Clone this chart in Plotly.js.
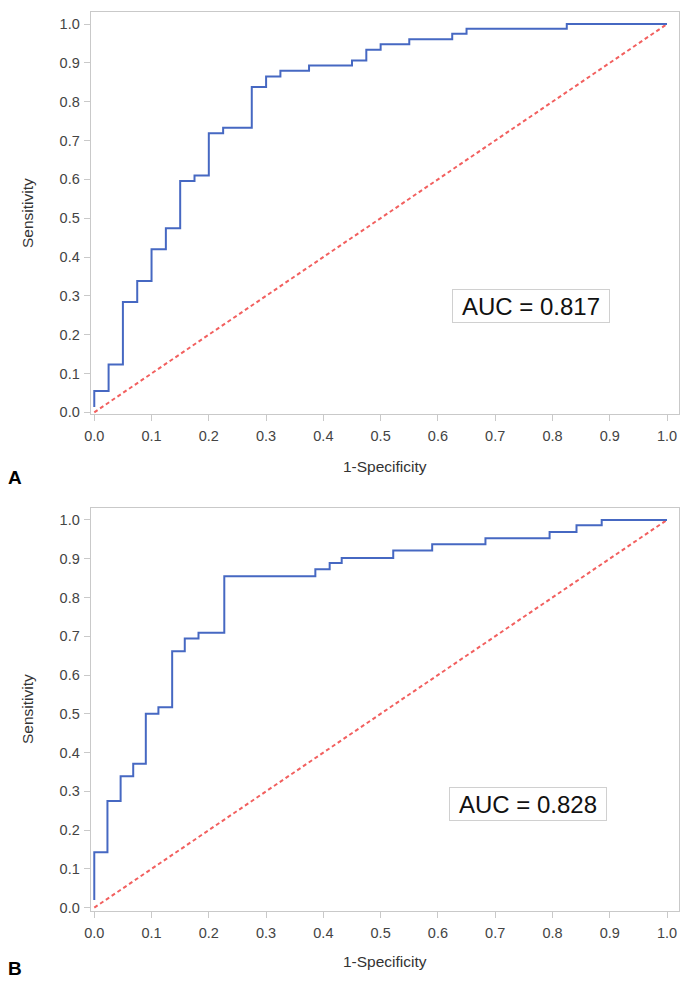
<!DOCTYPE html>
<html>
<head>
<meta charset="utf-8">
<script src="https://cdn.plot.ly/plotly-3.0.1.min.js"></script>
<style>html,body{margin:0;padding:0;background:#fff;}#chart{width:690px;height:986px;}</style>
</head>
<body>
<div id="chart"></div>
<script>
// Panel A ROC curve (1-Specificity, Sensitivity)
const fprA = [0, 0, 0.025, 0.05, 0.075, 0.10, 0.125, 0.15, 0.175, 0.20, 0.225, 0.275, 0.30, 0.325, 0.375, 0.45, 0.475, 0.50, 0.55, 0.625, 0.65, 0.825, 1.0];
const tprA = [0.014, 0.055, 0.123, 0.284, 0.338, 0.420, 0.474, 0.596, 0.610, 0.719, 0.733, 0.838, 0.865, 0.880, 0.893, 0.906, 0.934, 0.948, 0.961, 0.975, 0.988, 1.0, 1.0];
// Panel B ROC curve
const fprB = [0, 0, 0.023, 0.046, 0.068, 0.090, 0.112, 0.136, 0.158, 0.182, 0.227, 0.386, 0.411, 0.432, 0.522, 0.590, 0.683, 0.795, 0.842, 0.886, 1.0];
const tprB = [0.02, 0.143, 0.275, 0.339, 0.371, 0.500, 0.517, 0.661, 0.694, 0.709, 0.855, 0.873, 0.889, 0.902, 0.921, 0.937, 0.953, 0.969, 0.986, 1.0, 1.0];
// Reference diagonal
const refX = [0, 1];
const refY = [0, 1];
// Labels
const aucA = "AUC = 0.817";
const aucB = "AUC = 0.828";
const panelLabels = ["A", "B"];
const xTitle = "1-Specificity";
const yTitle = "Sensitivity";
const tickVals = [0, 0.1, 0.2, 0.3, 0.4, 0.5, 0.6, 0.7, 0.8, 0.9, 1.0];
const tickText = tickVals.map(v => v.toFixed(1));

const FONT = "Liberation Sans, Arial, Helvetica, sans-serif";
const BLUE = "#4668C2";
const RED = "#F2605F";
const FRAME = "#C9C9C9";

const traces = [
  {x: refX, y: refY, xaxis: "x", yaxis: "y", mode: "lines", line: {color: RED, width: 2, dash: "4px,3px"}, hoverinfo: "skip"},
  {x: fprA, y: tprA, xaxis: "x", yaxis: "y", mode: "lines", line: {color: BLUE, width: 2, shape: "hv"}},
  {x: refX, y: refY, xaxis: "x2", yaxis: "y2", mode: "lines", line: {color: RED, width: 2, dash: "4px,3px"}, hoverinfo: "skip"},
  {x: fprB, y: tprB, xaxis: "x2", yaxis: "y2", mode: "lines", line: {color: BLUE, width: 2, shape: "hv"}}
];

function xa(domain, anchor) {
  return {domain: domain, anchor: anchor, range: [-0.0063, 1.021], tickvals: tickVals, ticktext: tickText,
    showline: true, mirror: true, linecolor: FRAME, linewidth: 1, ticks: "outside", ticklen: 6, tickcolor: FRAME,
    ticklabelstandoff: 3,
    showgrid: false, zeroline: false, tickfont: {family: FONT, size: 14.5, color: "#444"}, fixedrange: true};
}
function ya(domain, anchor, r) {
  return {domain: domain, anchor: anchor, range: r, tickvals: tickVals, ticktext: tickText,
    showline: true, mirror: true, linecolor: FRAME, linewidth: 1, ticks: "outside", ticklen: 6, tickcolor: FRAME,
    ticklabelstandoff: 1,
    showgrid: false, zeroline: false, tickfont: {family: FONT, size: 14.5, color: "#444"}, fixedrange: true};
}

function lab(x, y, text, size, color, angle) {
  return {xref: "paper", yref: "paper", x: x / 690, y: 1 - y / 986, xanchor: "center", yanchor: "middle",
    text: text, textangle: angle || 0, showarrow: false, font: {family: FONT, size: size, color: color}};
}

const layout = {
  width: 690, height: 986,
  margin: {l: 0, r: 0, t: 0, b: 0},
  paper_bgcolor: "#fff", plot_bgcolor: "#fff",
  showlegend: false,
  font: {family: FONT, color: "#333"},
  xaxis: xa([0.1314, 0.9841], "y"),
  yaxis: ya([0.5801, 0.9878], "x", [-0.0044, 1.031]),
  xaxis2: xa([0.1314, 0.9841], "y2"),
  yaxis2: ya([0.0761, 0.4845], "x2", [-0.0085, 1.030]),
  annotations: [
    {xref: "x", yref: "y", x: 0.763, y: 0.273, xanchor: "center", yanchor: "middle", text: aucA, showarrow: false, font: {family: FONT, size: 24, color: "#111"},
      bordercolor: "#D0D0D0", borderwidth: 1, borderpad: 2, bgcolor: "#fff", width: 152, height: 28},
    {xref: "x2", yref: "y2", x: 0.757, y: 0.267, xanchor: "center", yanchor: "middle", text: aucB, showarrow: false, font: {family: FONT, size: 24, color: "#111"},
      bordercolor: "#D0D0D0", borderwidth: 1, borderpad: 2, bgcolor: "#fff", width: 152, height: 28},
    lab(27, 213, yTitle, 15.5, "#333", -90),
    lab(27, 709, yTitle, 15.5, "#333", -90),
    lab(385, 466.5, xTitle, 15.5, "#333"),
    lab(385, 961.5, xTitle, 15.5, "#333"),
    lab(15, 477, "<b>" + panelLabels[0] + "</b>", 19, "#000"),
    lab(15, 968, "<b>" + panelLabels[1] + "</b>", 19, "#000")
  ]
};

Plotly.newPlot("chart", traces, layout, {displayModeBar: false, staticPlot: true});
</script>
</body>
</html>
